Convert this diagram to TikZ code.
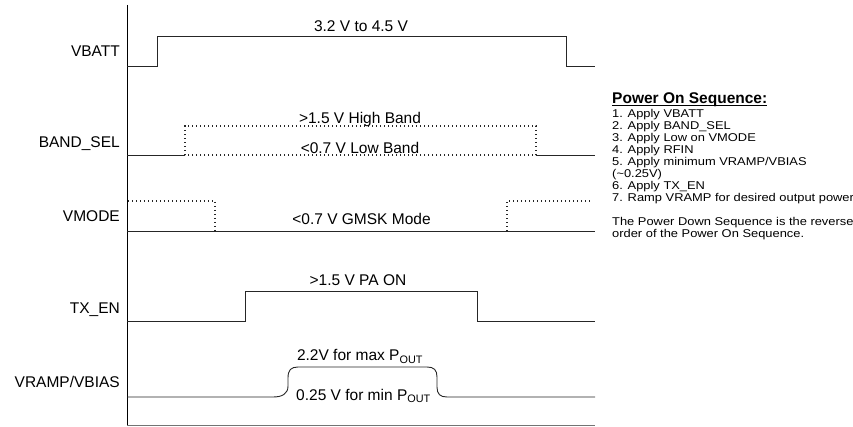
\documentclass[tikz,border=0pt]{standalone}
\usepackage{fontspec}
\setmainfont{Liberation Sans}
\newfontfamily\notefont[FakeStretch=1.14]{Liberation Sans}
\begin{document}
\begin{tikzpicture}[x=1pt,y=-1pt,
  sig/.style={line width=0.9pt,color=black!85},
  dots/.style={line width=1.2pt,color=black!85,dash pattern=on 1.2pt off 2.8pt},
  lab/.style={inner sep=0pt,anchor=base east,font=\fontsize{15.5}{18}\selectfont},
  val/.style={inner sep=0pt,anchor=base,font=\fontsize{15.5}{18}\selectfont},
  note/.style={inner sep=0pt,anchor=base west,font=\notefont\fontsize{11.3}{12}\selectfont}]
\useasboundingbox (0,0) rectangle (853,427);
% axes
\draw[line width=0.9pt] (127,5) -- (127,426);
\draw[line width=0.9pt,color=black!55] (127,425.5) -- (595,425.5);
% signal labels
\node[lab] (lvbatt) at (120,56.7) {VBATT};
\node[lab] (lband) at (120,147.7) {BAND\_SEL};
\node[lab] (lvmode) at (120,221.7) {VMODE};
\node[lab] (ltxen) at (120,313.3) {TX\_EN};
\node[lab] (lvramp) at (120,387.3) {VRAMP/VBIAS};
% VBATT
\draw[sig] (127,66) -- (157,66) -- (157,36) -- (566,36) -- (566,66) -- (595,66);
\node[val] (tvbatt) at (361,31.7) {3.2 V to 4.5 V};
% BAND_SEL
\draw[sig] (127,155) -- (185,155);
\draw[sig] (537,155) -- (595,155);
\draw[dots] (185,155) -- (185,126) -- (536,126) -- (536,155) -- cycle;
\node[val] (thigh) at (360,124) {>1.5 V High Band};
\node[val] (tlow) at (360,154) {<0.7 V Low Band};
% VMODE
\draw[sig] (127,231) -- (595,231);
\draw[dots] (128,201) -- (215,201) -- (215,231);
\draw[dots] (507,231) -- (507,201) -- (591,201);
\node[val] (tgmsk) at (361.5,225) {<0.7 V GMSK Mode};
% TX_EN
\draw[sig] (127,321) -- (245,321) -- (245,291) -- (477,291) -- (477,321) -- (595,321);
\node[val] (tpaon) at (358,286) {>1.5 V PA ON};
% VRAMP
\draw[sig] (127,397) -- (273,397)
  .. controls (282,397) and (288,394) .. (288,386) -- (288,378)
  .. controls (288,370) and (291,367) .. (298,367) -- (427,367)
  .. controls (434,367) and (437,370) .. (437,377) -- (437,387)
  .. controls (437,394) and (440,397) .. (447,397) -- (595,397);
\node[val] (tmax) at (360,360.7) {2.2V for max P\textsubscript{OUT}};
\node[val] (tmin) at (363.5,400) {0.25 V for min P\textsubscript{OUT}};
% notes
\node[inner sep=0pt,anchor=base west,font=\fontsize{15.5}{18}\selectfont\bfseries] (head) at (612,103.5) {Power On Sequence:};
\draw[line width=1pt] ([yshift=-2.3pt]head.base west) -- ([yshift=-2.3pt]head.base east);
\node[note] (n1) at (612,117.5) {1. Apply VBATT};
\node[note] (n2) at (612,129.5) {2. Apply BAND\_SEL};
\node[note] (n3) at (612,141.5) {3. Apply Low on VMODE};
\node[note] (n4) at (612,153.5) {4. Apply RFIN};
\node[note] (n5) at (612,165.5) {5. Apply minimum VRAMP/VBIAS};
\node[note] (n5b) at (612,177.5) {(\textasciitilde 0.25V)};
\node[note] (n6) at (612,189.5) {6. Apply TX\_EN};
\node[note] (n7) at (612,201.5) {7. Ramp VRAMP for desired output power};
\node[note] (d1) at (612,225.5) {The Power Down Sequence is the reverse};
\node[note] (d2) at (612,237.5) {order of the Power On Sequence.};
\end{tikzpicture}
\end{document}
